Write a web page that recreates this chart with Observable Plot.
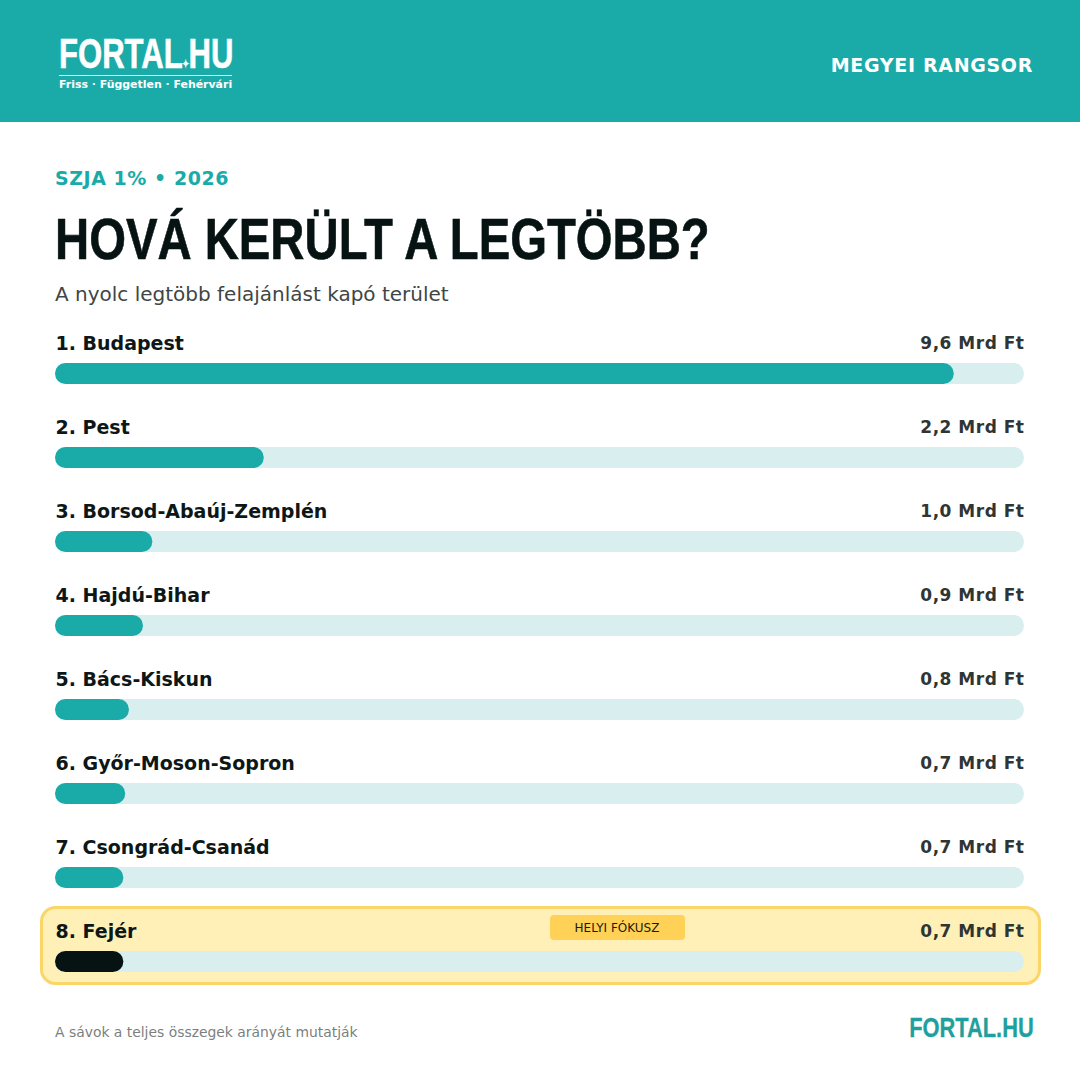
<!DOCTYPE html>
<html lang="hu">
<head>
<meta charset="utf-8">
<script src="https://cdn.jsdelivr.net/npm/d3@7"></script>
<script src="https://cdn.jsdelivr.net/npm/@observablehq/plot@0.6"></script>
<style>
html,body{margin:0;padding:0;background:#fff;width:1080px;height:1080px;overflow:hidden}
#page{position:relative;width:1080px;height:1080px;font-family:"DejaVu Sans",sans-serif}
#page>div{position:absolute;white-space:nowrap}
#hdr{left:0;top:0;width:1080px;height:122px;background:#1aaba9}
#logo{left:59px;top:32px;color:#fff;font:bold 43px "Liberation Sans",sans-serif;transform-origin:0 0;transform:scaleX(.723);line-height:42px;-webkit-text-stroke:.6px #fff}
#logo span{font-size:12px;vertical-align:0;margin:0 -1px;-webkit-text-stroke:0}
#rule{left:59px;top:75px;width:173px;height:1px;background:#e8f8f7}
#tag{left:59px;top:78px;color:#fff;font:bold 10.95px "DejaVu Sans",sans-serif;line-height:14px}
#rank{right:47px;top:54px;color:#fff;font:bold 19px "DejaVu Sans",sans-serif;line-height:22px;letter-spacing:.68px}
#kick{left:55px;top:167px;color:#1aaba9;font:bold 19px "DejaVu Sans",sans-serif;line-height:23px;letter-spacing:.55px}
#title{left:55px;top:205px;color:#061312;font:bold 58px "Liberation Sans",sans-serif;line-height:68px;transform-origin:0 0;transform:scaleX(.815);-webkit-text-stroke:.6px #061312}
#sub{left:55px;top:283px;color:#3f4645;font:20px "DejaVu Sans",sans-serif;line-height:23px}
#chart{left:0;top:331px}
#badge{left:550px;top:915px;width:134px;padding-right:1px;height:25px;border-radius:4px;background:#ffd257;color:#1d1a0c;font:12px "DejaVu Sans",sans-serif;line-height:26px;text-align:center}
#note{left:55px;top:1024px;color:#7b7f7f;font:13.9px "DejaVu Sans",sans-serif;line-height:17px}
#foot{right:46px;top:1013px;color:#1f9f9d;font:bold 28px "Liberation Sans",sans-serif;line-height:30px;transform-origin:100% 0;transform:scaleX(.78);-webkit-text-stroke:.3px #1f9f9d}
svg .val text{letter-spacing:.5px}
</style>
</head>
<body>
<div id="page">
  <div id="hdr"></div>
  <div id="logo">FORTAL<span>✦</span>HU</div>
  <div id="rule"></div>
  <div id="tag">Friss · Független · Fehérvári</div>
  <div id="rank">MEGYEI RANGSOR</div>
  <div id="kick">SZJA 1% • 2026</div>
  <div id="title">HOVÁ KERÜLT A LEGTÖBB?</div>
  <div id="sub">A nyolc legtöbb felajánlást kapó terület</div>
  <div id="chart"></div>
  <div id="badge">HELYI FÓKUSZ</div>
  <div id="note">A sávok a teljes összegek arányát mutatják</div>
  <div id="foot">FORTAL.HU</div>
</div>
<script>
const names = ["1. Budapest","2. Pest","3. Borsod-Abaúj-Zemplén","4. Hajdú-Bihar","5. Bács-Kiskun","6. Győr-Moson-Sopron","7. Csongrád-Csanád","8. Fejér"];
const values = [9.6,2.23,1.04,0.94,0.79,0.75,0.73,0.73];
const labels = ["9,6 Mrd Ft","2,2 Mrd Ft","1,0 Mrd Ft","0,9 Mrd Ft","0,8 Mrd Ft","0,7 Mrd Ft","0,7 Mrd Ft","0,7 Mrd Ft"];
const trackMax = 10.35;
const focus = "8. Fejér";

const rows = names.map((name,i)=>({name,value:values[i],label:labels[i]}));
const svg = Plot.plot({
  width:1080,height:660,
  marginLeft:55,marginRight:56,marginTop:0,marginBottom:0,
  style:{background:"transparent",overflow:"visible"},
  x:{domain:[0,trackMax],axis:null},
  y:{type:"band",domain:names,range:[0,672],paddingInner:0.75,paddingOuter:0.375,align:0.5,axis:null},
  marks:[
    Plot.barX(rows.filter(d=>d.name===focus),{x1:0,x2:trackMax,y:"name",fill:"#fff0b8",stroke:"#fbd568",strokeWidth:3,rx:14,
      insetLeft:-13.5,insetRight:-15.5,insetTop:-43.5,insetBottom:-11.5}),
    Plot.barX(rows,{x1:0,x2:trackMax,y:"name",fill:"#d9eeee",rx:10.5}),
    Plot.barX(rows,{x1:0,x2:"value",y:"name",fill:d=>d.name===focus?"#061312":"#1aaba9",rx:10.5}),
    Plot.text(rows,{x:0,y:"name",text:"name",textAnchor:"start",dy:-30.5,fontSize:19,fontWeight:"bold",fill:"#0d1716",fontFamily:"DejaVu Sans"}),
    Plot.text(rows,{x:trackMax,y:"name",text:"label",textAnchor:"end",dy:-30,fontSize:17,fontWeight:"bold",fill:"#2f3534",fontFamily:"DejaVu Sans",className:"val"})
  ]
});
document.getElementById("chart").appendChild(svg);
</script>
</body>
</html>
